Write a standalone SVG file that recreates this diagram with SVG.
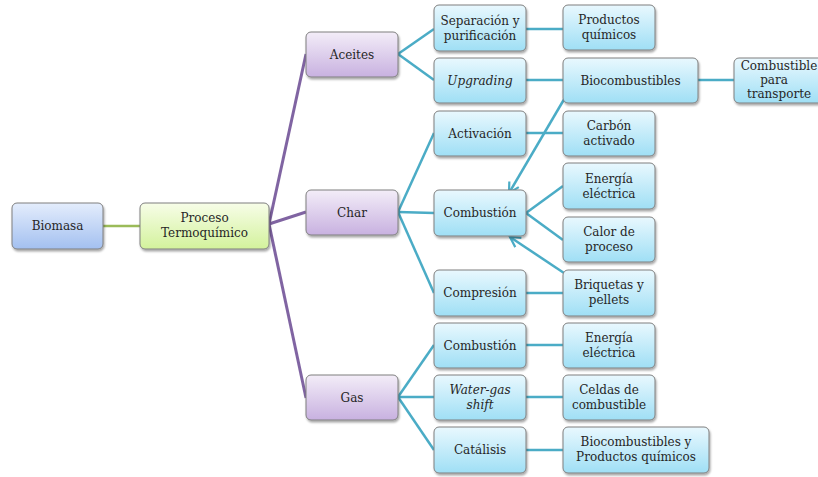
<svg xmlns="http://www.w3.org/2000/svg" width="818" height="477" viewBox="0 0 818 477">
<defs>
<linearGradient id="gBlue" x1="0" y1="0" x2="0" y2="1"><stop offset="0" stop-color="#e4edfc"/><stop offset="1" stop-color="#a3c0f0"/></linearGradient>
<linearGradient id="gGreen" x1="0" y1="0" x2="0" y2="1"><stop offset="0" stop-color="#f7fde8"/><stop offset="1" stop-color="#d3f29c"/></linearGradient>
<linearGradient id="gPurple" x1="0" y1="0" x2="0" y2="1"><stop offset="0" stop-color="#f3edf8"/><stop offset="1" stop-color="#c8b1e0"/></linearGradient>
<linearGradient id="gTeal" x1="0" y1="0" x2="0" y2="1"><stop offset="0" stop-color="#e9f8fe"/><stop offset="1" stop-color="#9fdff5"/></linearGradient>
<filter id="sh" x="-10%" y="-10%" width="130%" height="140%"><feDropShadow dx="1" dy="2" stdDeviation="1.3" flood-color="#000" flood-opacity="0.35"/></filter>
<marker id="arr" markerUnits="userSpaceOnUse" markerWidth="14" markerHeight="14" viewBox="0 0 14 14" refX="12" refY="7" orient="auto"><path d="M2,1.5 L12,7 L2,12.5" fill="none" stroke="#4bacc6" stroke-width="2.2"/></marker>
<style>
.b{stroke:#7f7f7f;stroke-width:1;filter:url(#sh)}
.blue{fill:url(#gBlue)}
.green{fill:url(#gGreen)}
.purple{fill:url(#gPurple)}
.teal{fill:url(#gTeal)}
text{font-family:"DejaVu Serif","Liberation Serif",serif;font-size:12px;fill:#262626;text-anchor:middle}
.it{font-style:italic}
.lp{stroke:#8064a2;stroke-width:3;fill:none}
.lt{stroke:#4bacc6;stroke-width:2.5;fill:none}
.lg{stroke:#9bbb59;stroke-width:2.5;fill:none}
</style>
</defs>
<g id="connectors">
<line class="lg" x1="103" y1="226" x2="140" y2="226"/>
<line class="lp" x1="269" y1="224" x2="306" y2="54"/>
<line class="lp" x1="269" y1="224" x2="306" y2="212"/>
<line class="lp" x1="269" y1="224" x2="306" y2="398"/>
<line class="lt" x1="398" y1="54" x2="434" y2="29"/>
<line class="lt" x1="398" y1="54" x2="434" y2="80"/>
<line class="lt" x1="398" y1="212" x2="434" y2="133"/>
<line class="lt" x1="398" y1="212" x2="434" y2="213"/>
<line class="lt" x1="398" y1="212" x2="434" y2="293"/>
<line class="lt" x1="398" y1="397" x2="434" y2="345"/>
<line class="lt" x1="398" y1="397" x2="434" y2="397"/>
<line class="lt" x1="398" y1="397" x2="434" y2="450"/>
<line class="lt" x1="526" y1="29" x2="563" y2="29"/>
<line class="lt" x1="526" y1="80" x2="563" y2="80"/>
<line class="lt" x1="698" y1="80" x2="734" y2="80"/>
<line class="lt" x1="526" y1="133" x2="563" y2="133"/>
<line class="lt" x1="526" y1="213" x2="563" y2="186"/>
<line class="lt" x1="526" y1="213" x2="563" y2="240"/>
<line class="lt" x1="526" y1="293" x2="563" y2="293"/>
<line class="lt" x1="526" y1="345" x2="563" y2="345"/>
<line class="lt" x1="526" y1="397" x2="563" y2="397"/>
<line class="lt" x1="526" y1="450" x2="563" y2="450"/>
<line class="lt" x1="566" y1="96" x2="509" y2="193" marker-end="url(#arr)"/>
<line class="lt" x1="564" y1="273" x2="510" y2="237" marker-end="url(#arr)"/>
</g>
<g id="biomasa"><rect class="b blue" x="12" y="203" width="91" height="46" rx="5"/><text x="57.5" y="230">Biomasa</text></g>
<g id="proceso"><rect class="b green" x="140" y="203" width="129" height="46" rx="5"/><text x="204.5" y="222">Proceso</text><text x="204.5" y="237">Termoquímico</text></g>
<g id="aceites"><rect class="b purple" x="306" y="32" width="92" height="45" rx="5"/><text x="352" y="58.5">Aceites</text></g>
<g id="char"><rect class="b purple" x="306" y="190" width="92" height="45" rx="5"/><text x="352" y="216.5">Char</text></g>
<g id="gas"><rect class="b purple" x="306" y="375" width="92" height="45" rx="5"/><text x="352" y="401.5">Gas</text></g>
<g id="separacion"><rect class="b teal" x="434" y="5" width="92" height="46" rx="5"/><text x="480" y="24.5">Separación y</text><text x="480" y="39.5">purificación</text></g>
<g id="upgrading"><rect class="b teal" x="434" y="58" width="92" height="45" rx="5"/><text class="it" x="480" y="84.5">Upgrading</text></g>
<g id="activacion"><rect class="b teal" x="434" y="111" width="92" height="45" rx="5"/><text x="480" y="137.5">Activación</text></g>
<g id="combustion1"><rect class="b teal" x="434" y="190" width="92" height="46" rx="5"/><text x="480" y="217">Combustión</text></g>
<g id="compresion"><rect class="b teal" x="434" y="270" width="92" height="46" rx="5"/><text x="480" y="297">Compresión</text></g>
<g id="combustion2"><rect class="b teal" x="434" y="323" width="92" height="45" rx="5"/><text x="480" y="349.5">Combustión</text></g>
<g id="watergas"><rect class="b teal" x="434" y="375" width="92" height="45" rx="5"/><text class="it" x="480" y="394">Water-gas</text><text class="it" x="480" y="409">shift</text></g>
<g id="catalisis"><rect class="b teal" x="434" y="427" width="92" height="46" rx="5"/><text x="480" y="454">Catálisis</text></g>
<g id="productos"><rect class="b teal" x="563" y="5" width="92" height="45" rx="5"/><text x="609" y="24">Productos</text><text x="609" y="39">químicos</text></g>
<g id="biocombustibles"><rect class="b teal" x="563" y="58" width="135" height="45" rx="5"/><text x="630.5" y="84.5">Biocombustibles</text></g>
<g id="transporte"><rect class="b teal" x="734" y="58" width="90" height="45" rx="5"/><text x="779" y="70">Combustible</text><text x="774" y="84">para</text><text x="779" y="98">transporte</text></g>
<g id="carbon"><rect class="b teal" x="563" y="111" width="92" height="45" rx="5"/><text x="609" y="130">Carbón</text><text x="609" y="145">activado</text></g>
<g id="energia1"><rect class="b teal" x="563" y="163" width="92" height="46" rx="5"/><text x="609" y="182.5">Energía</text><text x="609" y="197.5">eléctrica</text></g>
<g id="calor"><rect class="b teal" x="563" y="217" width="92" height="45" rx="5"/><text x="609" y="236">Calor de</text><text x="609" y="251">proceso</text></g>
<g id="briquetas"><rect class="b teal" x="563" y="270" width="92" height="46" rx="5"/><text x="609" y="289">Briquetas y</text><text x="609" y="304">pellets</text></g>
<g id="energia2"><rect class="b teal" x="563" y="323" width="92" height="45" rx="5"/><text x="609" y="342">Energía</text><text x="609" y="357">eléctrica</text></g>
<g id="celdas"><rect class="b teal" x="563" y="375" width="92" height="45" rx="5"/><text x="609" y="394">Celdas de</text><text x="609" y="409">combustible</text></g>
<g id="bioproductos"><rect class="b teal" x="563" y="427" width="146" height="46" rx="5"/><text x="636" y="446">Biocombustibles y</text><text x="636" y="461">Productos químicos</text></g>
</svg>
